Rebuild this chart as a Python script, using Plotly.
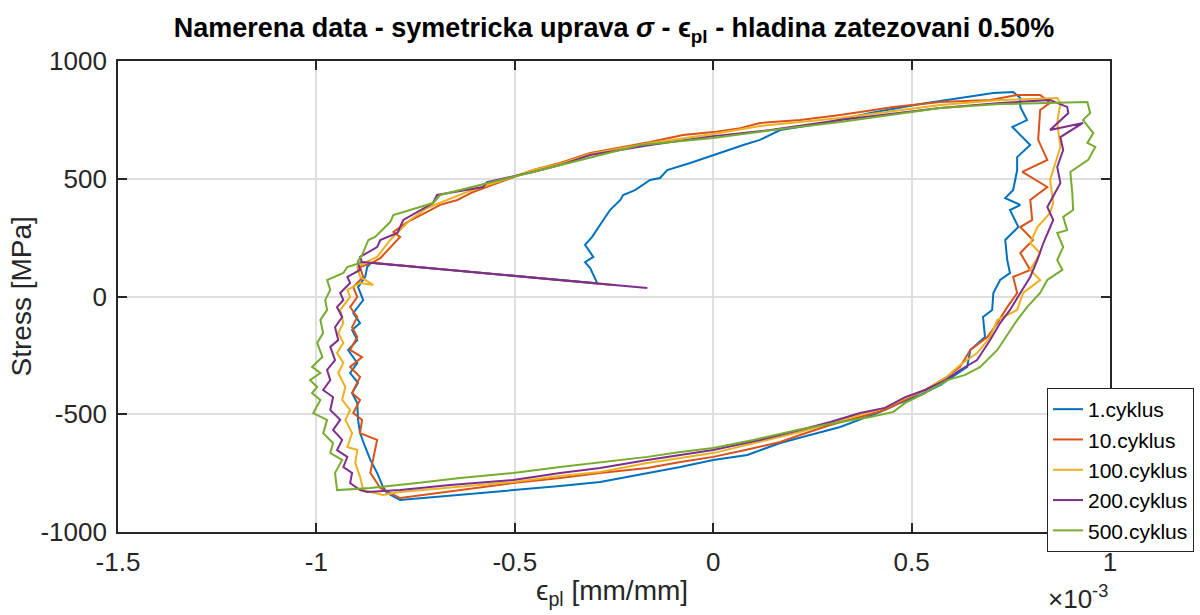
import plotly.graph_objects as go

# strain values in units of 1e-3 mm/mm, stress in MPa
c1_x = [-0.292, -0.310, -0.323, -0.302, -0.323, -0.305, -0.277, -0.260, -0.234, -0.227, -0.197, -0.159, -0.134, -0.116,
        -0.058, 0.000, 0.076, 0.118, 0.169, 0.295, 0.396, 0.522, 0.622, 0.706, 0.756, 0.774,
        0.774, 0.791, 0.754, 0.799, 0.766, 0.766, 0.756, 0.736, 0.774, 0.748, 0.769, 0.736, 0.741, 0.748, 0.723,
        0.706, 0.703, 0.680, 0.685, 0.648, 0.640, 0.610, 0.572, 0.522, 0.471, 0.421, 0.370, 0.320, 0.244, 0.169,
        0.086, 0.000, -0.083, -0.166, -0.285, -0.386, -0.504, -0.638, -0.738, -0.789, -0.822,
        -0.832, -0.847, -0.864, -0.877, -0.890, -0.895, -0.897, -0.910, -0.895, -0.915, -0.897, -0.920, -0.897,
        -0.910, -0.890, -0.907, -0.882, -0.895, -0.877, -0.872, -0.862, -0.292]
c1_y = [56, 121, 146, 168, 219, 253, 325, 367, 410, 431, 452, 495, 503, 537,
        567, 601, 643, 665, 707, 741, 779, 817, 843, 864, 868, 843,
        805, 749, 720, 643, 592, 537, 452, 418, 389, 367, 295, 240, 155, 100, 70,
        15, -57, -87, -172, -227, -299, -333, -376, -418, -452, -490, -524, -554, -588, -622,
        -673, -694, -724, -749, -788, -805, -822, -843, -856, -864, -834,
        -809, -749, -694, -639, -580, -524, -452, -410, -367, -325, -282, -227, -185,
        -142, -113, -70, -15, 40, 83, 125, 143, 56]

c10_x = [-0.252, -0.860, -0.839, -0.789, -0.806, -0.771, -0.721, -0.688, -0.645, -0.605, -0.537, -0.454, -0.386,
         -0.310, -0.227, -0.159, -0.076, 0.000, 0.068, 0.118, 0.219, 0.320, 0.454, 0.572, 0.698, 0.766, 0.824, 0.849,
         0.824, 0.819, 0.842, 0.779, 0.842, 0.799, 0.804, 0.774, 0.806, 0.774, 0.799, 0.756, 0.766, 0.741, 0.716,
         0.691, 0.648, 0.622, 0.585, 0.534, 0.484, 0.433, 0.370, 0.295, 0.219, 0.169, 0.081, 0.000, -0.083, -0.166,
         -0.285, -0.386, -0.504, -0.638, -0.738, -0.789, -0.839,
         -0.864, -0.847, -0.890, -0.885, -0.907, -0.890, -0.910, -0.890, -0.915, -0.885, -0.915, -0.897, -0.910,
         -0.897, -0.915, -0.897, -0.907, -0.882, -0.890, -0.860]
c10_y = [49, 143, 163, 253, 274, 316, 359, 389, 410, 444, 486, 537, 567,
         609, 635, 656, 686, 698, 715, 737, 749, 771, 805, 826, 834, 856, 856, 822,
         792, 665, 580, 529, 465, 410, 325, 295, 240, 185, 113, 83, 15, -45, -113,
         -172, -227, -299, -346, -397, -439, -482, -512, -546, -588, -618, -652, -681, -703, -728,
         -749, -771, -792, -822, -843, -856, -813,
         -749, -609, -580, -524, -495, -439, -410, -342, -299, -257, -227, -172, -130,
         -87, -45, -2, 40, 83, 125, 143]

c100_x = [-0.870, -0.847, -0.814, -0.789, -0.764, -0.721, -0.670, -0.620, -0.537, -0.454, -0.386, -0.310, -0.159,
          0.000, 0.118, 0.320, 0.572, 0.723, 0.867,
          0.875, 0.867, 0.875, 0.849, 0.857, 0.849, 0.817, 0.799, 0.824, 0.799, 0.824, 0.781, 0.766, 0.716, 0.698,
          0.665, 0.622, 0.585, 0.534, 0.484, 0.433, 0.370, 0.295, 0.219, 0.118, 0.000, -0.083, -0.166, -0.285,
          -0.386, -0.504, -0.663, -0.789, -0.832, -0.882,
          -0.890, -0.902, -0.897, -0.922, -0.910, -0.927, -0.915, -0.935, -0.927, -0.945, -0.932, -0.948, -0.932,
          -0.945, -0.932, -0.940, -0.915, -0.922, -0.890, -0.857, -0.890, -0.897, -0.870]
c100_y = [150, 168, 240, 282, 325, 376, 410, 444, 490, 537, 563, 605, 652,
          690, 724, 758, 813, 834, 843,
          822, 737, 635, 495, 397, 355, 295, 227, 185, 113, 70, 15, -57, -100, -172,
          -240, -291, -346, -397, -431, -473, -503, -537, -575, -618, -665, -686, -707, -745,
          -762, -788, -813, -830, -843, -822,
          -766, -707, -652, -639, -580, -524, -482, -439, -384, -325, -282, -240, -197,
          -155, -113, -57, -2, 28, 57, 49, 83, 125, 150]

c200_x = [-0.166, -0.885, -0.890, -0.847, -0.839, -0.796, -0.781, -0.746, -0.706, -0.696, -0.580, -0.570, -0.454,
          -0.386, -0.310, -0.159, 0.000, 0.144, 0.320, 0.572, 0.723, 0.849, 0.892,
          0.895, 0.849, 0.932, 0.875, 0.882, 0.867, 0.875, 0.842, 0.857, 0.832, 0.817, 0.799, 0.774, 0.748, 0.723,
          0.698, 0.665, 0.622, 0.585, 0.534, 0.484, 0.433, 0.370, 0.295, 0.219, 0.118, 0.000, -0.083, -0.166,
          -0.285, -0.386, -0.504, -0.663, -0.789, -0.872, -0.890,
          -0.915, -0.910, -0.932, -0.922, -0.948, -0.935, -0.958, -0.940, -0.965, -0.958, -0.983, -0.965, -0.973,
          -0.953, -0.965, -0.945, -0.953, -0.935, -0.948, -0.932, -0.940, -0.915, -0.922, -0.890, -0.895, -0.885]
c200_y = [36, 146, 168, 210, 240, 270, 325, 359, 397, 431, 465, 486, 529,
          558, 601, 643, 681, 707, 749, 800, 822, 834, 805,
          779, 707, 737, 677, 622, 550, 482, 380, 325, 227, 155, 83, 15, -57, -113,
          -185, -270, -312, -355, -397, -427, -473, -495, -533, -567, -609, -652, -673, -694,
          -728, -749, -779, -800, -822, -830, -822,
          -792, -749, -724, -681, -652, -609, -567, -524, -482, -427, -397, -355, -312,
          -270, -214, -185, -130, -87, -45, -15, 15, 57, 83, 113, 142, 146]

c500_x = [-0.897, -0.885, -0.869, -0.852, -0.814, -0.806, -0.764, -0.706, -0.688, -0.620, -0.537, -0.454, -0.386,
          -0.310, -0.184, 0.000, 0.151, 0.320, 0.572, 0.723, 0.943,
          0.950, 0.932, 0.958, 0.943, 0.963, 0.945, 0.900, 0.905, 0.907, 0.882, 0.892, 0.867, 0.882, 0.867, 0.880,
          0.842, 0.824, 0.791, 0.766, 0.731, 0.716, 0.673, 0.635, 0.590, 0.534, 0.484, 0.454, 0.396, 0.320, 0.212,
          0.101, 0.000, -0.083, -0.166, -0.302, -0.386, -0.504, -0.638, -0.746, -0.864, -0.948,
          -0.953, -0.935, -0.965, -0.958, -0.983, -0.973, -1.008, -0.990, -1.011, -0.998, -1.016, -0.990, -1.011,
          -0.985, -0.998, -0.983, -0.990, -0.973, -0.978, -0.965, -0.973, -0.932, -0.922, -0.890, -0.897]
c500_y = [146, 176, 240, 253, 316, 346, 367, 397, 431, 461, 495, 529, 558,
          592, 643, 673, 707, 741, 800, 817, 826,
          779, 749, 694, 652, 635, 580, 529, 439, 367, 338, 282, 270, 210, 155, 113,
          70, 15, -45, -100, -185, -227, -299, -333, -355, -410, -452, -490, -512, -533, -567,
          -609, -643, -660, -681, -707, -724, -749, -771, -792, -813, -822,
          -749, -694, -665, -622, -580, -524, -495, -439, -410, -384, -355, -325, -299,
          -257, -197, -155, -100, -57, -15, 28, 70, 100, 125, 142, 146]

series_names = ["1.cyklus", "10.cyklus", "100.cyklus", "200.cyklus", "500.cyklus"]
series_x = [c1_x, c10_x, c100_x, c200_x, c500_x]
series_y = [c1_y, c10_y, c100_y, c200_y, c500_y]
colors = ["#0072BD", "#D95319", "#EDB120", "#7E2F8E", "#77AC30"]

x_ticks = [-1.5, -1, -0.5, 0, 0.5, 1]
x_ticklabels = ["-1.5", "-1", "-0.5", "0", "0.5", "1"]
y_ticks = [-1000, -500, 0, 500, 1000]
y_ticklabels = ["-1000", "-500", "0", "500", "1000"]

FONT = "Liberation Sans, Arial, Helvetica, sans-serif"
AX = "#262626"

fig = go.Figure()
for name, xs, ys, col in zip(series_names, series_x, series_y, colors):
    fig.add_trace(go.Scatter(x=xs, y=ys, mode="lines", name=name,
                             line=dict(color=col, width=2)))

axis_common = dict(showline=True, linecolor=AX, linewidth=1.8, mirror="allticks",
                   ticks="inside", ticklen=9, tickwidth=1.5, tickcolor=AX,
                   showgrid=True, gridcolor="#dfdfdf", gridwidth=1.5, zeroline=False,
                   tickfont=dict(family=FONT, size=26, color=AX))

fig.update_xaxes(range=[-1.5, 1], tickvals=x_ticks, ticktext=x_ticklabels,
                 ticklabelstandoff=6, **axis_common)
fig.update_yaxes(range=[-1000, 1000], tickvals=y_ticks, ticktext=y_ticklabels,
                 ticklabelstandoff=4, **axis_common)

fig.update_layout(
    width=1200, height=615,
    paper_bgcolor="white", plot_bgcolor="white",
    margin=dict(l=118, r=90, t=61, b=83, autoexpand=False),
    title=dict(text="<b>Namerena data - symetricka uprava <i>σ</i> - ϵ<sub>pl</sub> - hladina zatezovani 0.50%</b>",
               x=0.5, xref="paper", xanchor="center", y=1 - 28 / 615, yanchor="middle",
               font=dict(family=FONT, size=27, color="black")),
    legend=dict(x=0.9365, y=0.3057, xanchor="left", yanchor="top",
                bgcolor="white", bordercolor=AX, borderwidth=1,
                font=dict(family=FONT, size=21, color="black")),
    annotations=[
        dict(text="Stress [MPa]", xref="paper", yref="paper", x=-0.0968, y=0.5,
             textangle=-90, showarrow=False, xanchor="center", yanchor="middle",
             font=dict(family=FONT, size=28, color=AX)),
        dict(text="ϵ<sub>pl</sub> [mm/mm]", xref="paper", yref="paper", x=0.498, y=-0.128,
             showarrow=False, xanchor="center", yanchor="middle",
             font=dict(family=FONT, size=28, color=AX)),
        dict(text="×10<sup>-3</sup>", xref="paper", yref="paper", x=1.0, y=-0.14,
             showarrow=False, xanchor="right", yanchor="middle",
             font=dict(family=FONT, size=26, color=AX)),
    ],
)

fig.write_html("out.html")
